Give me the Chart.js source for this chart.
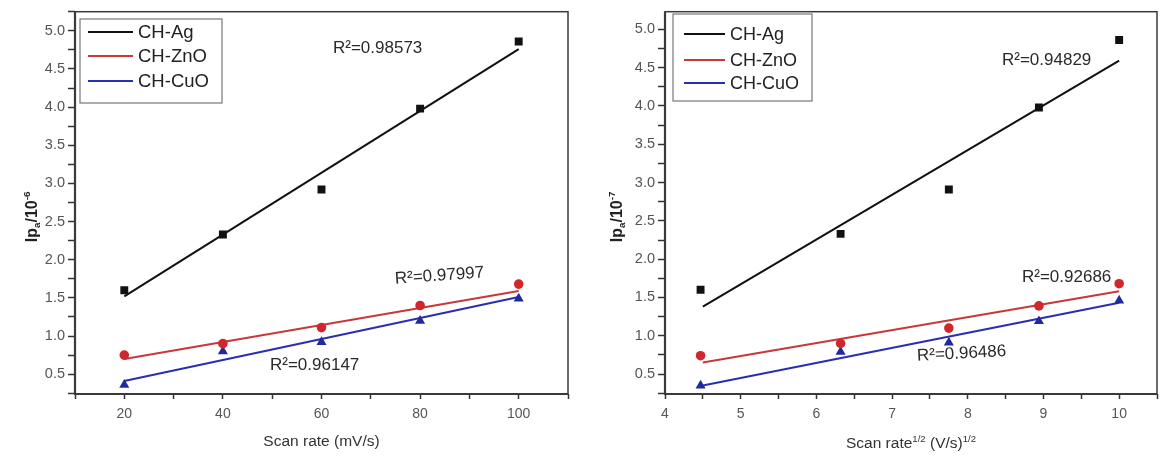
<!DOCTYPE html>
<html><head><meta charset="utf-8">
<script src="https://cdn.jsdelivr.net/npm/chart.js@4/dist/chart.umd.min.js"></script>
<style>
html,body{margin:0;padding:0;background:#fff;}
#wrap{position:relative;width:1164px;height:457px;overflow:hidden;}
.box{position:absolute;top:0;height:457px;}
</style></head><body>
<div id="wrap">
<div class="box" style="left:0;width:580px"><canvas id="c1" width="580" height="457"></canvas></div>
<div class="box" style="left:580px;width:584px"><canvas id="c2" width="584" height="457"></canvas></div>
</div>
<script>
// ---- data ----
const seriesNames = ['CH-Ag', 'CH-ZnO', 'CH-CuO'];
const scanRate = [20, 40, 60, 80, 100];
const sqrtScanRate = [4.47, 6.32, 7.75, 8.94, 10.0];
const agLeft = [1.60, 2.33, 2.92, 3.98, 4.86];
const znoLeft = [0.75, 0.90, 1.11, 1.40, 1.68];
const cuoLeft = [0.36, 0.80, 0.92, 1.20, 1.49];
const agRight = [1.60, 2.33, 2.91, 3.98, 4.86];
const znoRight = [0.74, 0.90, 1.10, 1.39, 1.68];
const cuoRight = [0.35, 0.79, 0.91, 1.19, 1.46];
const fitXLeft = [20, 100];
const agFitLeft = [1.52, 4.76];
const znoFitLeft = [0.70, 1.59];
const cuoFitLeft = [0.41, 1.51];
const fitXRight = [4.5, 10.0];
const agFitRight = [1.38, 4.59];
const znoFitRight = [0.65, 1.58];
const cuoFitRight = [0.35, 1.43];
const r2Left = ['0.98573', '0.97997', '0.96147'];
const r2Right = ['0.94829', '0.92686', '0.96486'];
const xTickLabelsLeft = [20, 40, 60, 80, 100];
const xTickLabelsRight = [4, 5, 6, 7, 8, 9, 10];
const yTickLabels = [0.5, 1.0, 1.5, 2.0, 2.5, 3.0, 3.5, 4.0, 4.5, 5.0];

const colors = ['#111111', '#d0262c', '#1f2a9e'];
const lineColors = ['#111111', '#c8383a', '#2a2eb0'];
const FONT = 'Liberation Sans, Arial, sans-serif';

function pairs(xs, ys) { return xs.map((x, i) => ({x: x, y: ys[i]})); }

function drawRich(ctx, segs, x, y, align, size, weight, color) {
  ctx.fillStyle = color;
  ctx.textBaseline = 'alphabetic';
  let total = 0;
  segs.forEach(s => {
    const fs = s.k ? size * 0.62 : size;
    ctx.font = weight + ' ' + fs + 'px ' + FONT;
    s.w = ctx.measureText(s.t).width; s.fs = fs; total += s.w;
  });
  let cx = align === 'center' ? x - total / 2 : x;
  const base = y + size * 0.35;
  segs.forEach(s => {
    ctx.font = weight + ' ' + s.fs + 'px ' + FONT;
    let yy = base;
    if (s.k === 'sup') yy = base - size * 0.42;
    if (s.k === 'sub') yy = base + size * 0.2;
    ctx.textAlign = 'left';
    ctx.fillText(s.t, cx, yy);
    cx += s.w;
  });
}

function makeDecor(cfg) {
  return {
    id: 'decor',
    afterDraw(chart) {
      const ctx = chart.ctx, a = chart.chartArea;
      ctx.save();
      // frame
      ctx.strokeStyle = '#3a3a3a';
      ctx.lineWidth = 1.5;
      ctx.strokeRect(a.left, a.top, a.right - a.left, a.bottom - a.top);
      ctx.lineWidth = 2.2;
      ctx.beginPath();
      ctx.moveTo(a.left, a.top); ctx.lineTo(a.left, a.bottom); ctx.lineTo(a.right, a.bottom);
      ctx.stroke();
      // legend
      const L = cfg.legend;
      ctx.fillStyle = '#fff';
      ctx.fillRect(L.x, L.y, L.w, L.h);
      ctx.strokeStyle = '#777'; ctx.lineWidth = 1.2;
      ctx.strokeRect(L.x, L.y, L.w, L.h);
      seriesNames.forEach((n, i) => {
        const yy = L.rows[i];
        ctx.strokeStyle = lineColors[i]; ctx.lineWidth = 2;
        ctx.beginPath(); ctx.moveTo(L.lx0, yy); ctx.lineTo(L.lx1, yy); ctx.stroke();
        ctx.fillStyle = '#222'; ctx.font = L.fs + 'px ' + FONT;
        ctx.textAlign = 'left'; ctx.textBaseline = 'middle';
        ctx.fillText(n, L.tx, yy + 1);
      });
      // R^2 labels
      cfg.r2.forEach((r) => {
        ctx.save();
        ctx.translate(r.x, r.y);
        ctx.rotate((r.rot || 0) * Math.PI / 180);
        ctx.fillStyle = '#2a2a2a'; ctx.font = '17px ' + FONT;
        ctx.textAlign = 'left'; ctx.textBaseline = 'middle';
        ctx.fillText('R\u00b2=' + r.v, 0, 0);
        ctx.restore();
      });
      // x title
      drawRich(ctx, cfg.xTitle, (a.left + a.right) / 2, cfg.xTitleY, 'center', 15.5, 'normal', '#333');
      // y title (rotated)
      ctx.save();
      ctx.translate(cfg.yTitleX, (a.top + a.bottom) / 2 + 14);
      ctx.rotate(-Math.PI / 2);
      drawRich(ctx, cfg.yTitle, 0, 0, 'center', 16, 'bold', '#222');
      ctx.restore();
      ctx.restore();
    }
  };
}

function makeChart(id, xs, ys, fitX, fits, xmin, xmax, xstep, xLabels, ymin, ymax, pad, yWidth, decor) {
  const ds = [];
  const styles = ['rect', 'circle', 'triangle'];
  const radii = [5.6, 4.8, 5.8];
  ys.forEach((arr, i) => {
    ds.push({label: seriesNames[i] + ' data', data: pairs(xs, arr), showLine: false,
      pointStyle: styles[i], pointRadius: radii[i], backgroundColor: colors[i], borderColor: colors[i], borderWidth: 0, order: 0});
  });
  fits.forEach((arr, i) => {
    ds.push({label: seriesNames[i], data: pairs(fitX, arr), showLine: true, pointRadius: 0,
      borderColor: lineColors[i], borderWidth: 2, fill: false, order: 1});
  });
  return new Chart(document.getElementById(id), {
    type: 'scatter',
    data: {datasets: ds},
    options: {
      responsive: false, animation: false,
      layout: {padding: pad},
      plugins: {legend: {display: false}, tooltip: {enabled: false}},
      scales: {
        x: {type: 'linear', min: xmin, max: xmax,
          ticks: {stepSize: xstep, autoSkip: false, includeBounds: false, maxRotation: 0, padding: 7,
            color: '#555', font: {family: FONT, size: 14},
            callback: v => xLabels.some(l => Math.abs(l - v) < 1e-6) ? String(Math.round(v)) : ''},
          grid: {drawOnChartArea: false, tickLength: 5, tickColor: '#333', tickWidth: 1.5},
          border: {display: false},
          afterFit: s => { s.height = 63; }},
        y: {type: 'linear', min: ymin, max: ymax,
          ticks: {stepSize: 0.25, autoSkip: false, includeBounds: false, padding: 3,
            color: '#555', font: {family: FONT, size: 14.5},
            callback: v => yTickLabels.some(l => Math.abs(l - v) < 1e-6) ? v.toFixed(1) : ''},
          grid: {drawOnChartArea: false, tickLength: 7, tickColor: '#333', tickWidth: 1.5},
          border: {display: false},
          afterFit: s => { s.width = yWidth; }}
      }
    },
    plugins: [makeDecor(decor)]
  });
}

makeChart('c1', scanRate, [agLeft, znoLeft, cuoLeft], fitXLeft, [agFitLeft, znoFitLeft, cuoFitLeft],
  10, 110, 10, xTickLabelsLeft, 0.24, 5.25, {left: 0, right: 12, top: 10, bottom: 0}, 75, {
    legend: {x: 80, y: 19, w: 142, h: 84, lx0: 88, lx1: 133, tx: 138, rows: [32, 56, 81], fs: 18.5},
    r2: [{v: r2Left[0], x: 333, y: 48}, {v: r2Left[1], x: 395, y: 279, rot: -4}, {v: r2Left[2], x: 270, y: 365}],
    xTitle: [{t: 'Scan rate (mV/s)'}], xTitleY: 441,
    yTitle: [{t: 'Ip'}, {t: 'a', k: 'sub'}, {t: '/10'}, {t: '-6', k: 'sup'}], yTitleX: 31
  });

makeChart('c2', sqrtScanRate, [agRight, znoRight, cuoRight], fitXRight, [agFitRight, znoFitRight, cuoFitRight],
  4, 10.5, 0.5, xTickLabelsRight, 0.24, 5.23, {left: 0, right: 1, top: 7, bottom: 0}, 85, {
    legend: {x: 93, y: 14, w: 139, h: 87, lx0: 104, lx1: 145, tx: 150, rows: [34, 60, 83], fs: 18},
    r2: [{v: r2Right[0], x: 422, y: 60}, {v: r2Right[1], x: 442, y: 277}, {v: r2Right[2], x: 337, y: 356, rot: -3}],
    xTitle: [{t: 'Scan rate'}, {t: '1/2', k: 'sup'}, {t: ' (V/s)'}, {t: '1/2', k: 'sup'}], xTitleY: 443,
    yTitle: [{t: 'Ip'}, {t: 'a', k: 'sub'}, {t: '/10'}, {t: '-7', k: 'sup'}], yTitleX: 36
  });
</script>
</body></html>
